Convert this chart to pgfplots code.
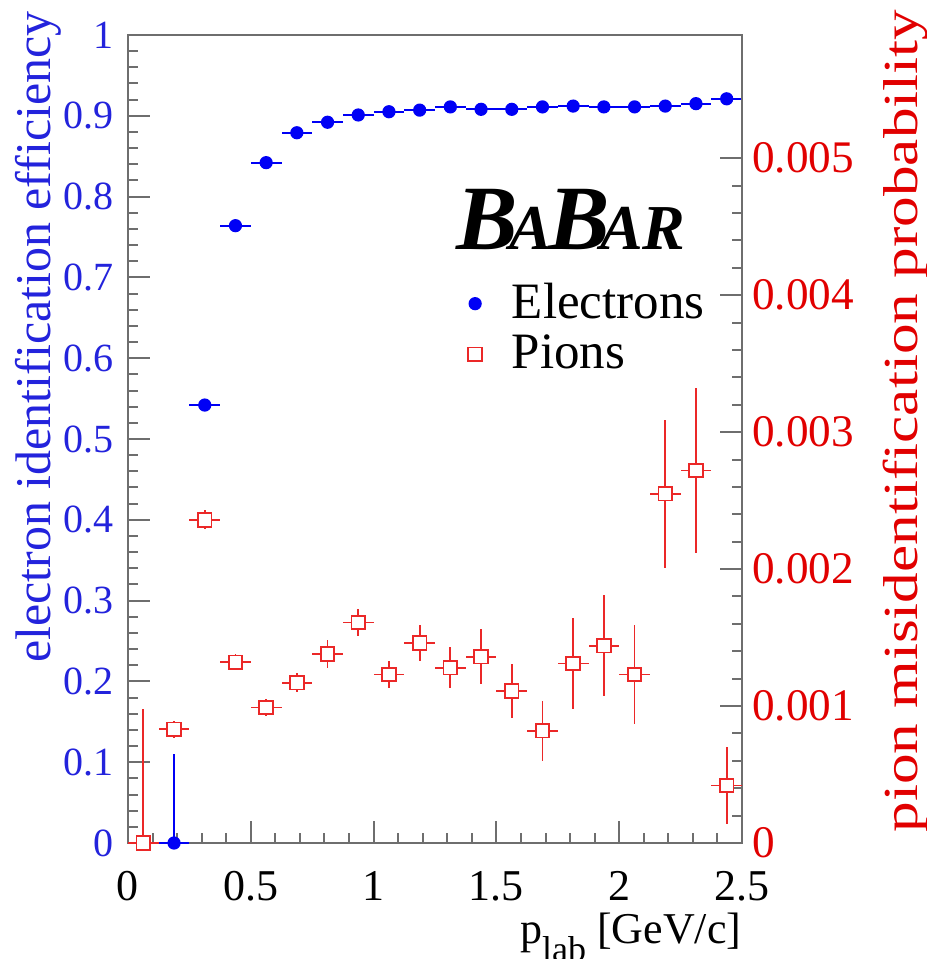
\documentclass[border=0pt]{standalone}
\usepackage{fontspec}
\setmainfont{Liberation Serif}
\usepackage{pgfplots}
\pgfplotsset{compat=1.18}

\definecolor{elblue}{RGB}{0,0,245}
\definecolor{eltext}{RGB}{35,35,220}
\definecolor{pired}{RGB}{235,40,40}
\definecolor{pitext}{RGB}{225,0,0}
\definecolor{frame}{RGB}{110,110,110}

% electrons: bin centre, efficiency, half bin width, error up, error down
\pgfplotstableread{
x      y      ex      eyp    eym
0.1875 0.000  0.0625  0.110  0.000
0.3125 0.542  0.0625  0.005  0.005
0.4375 0.764  0.0625  0.004  0.004
0.5625 0.842  0.0625  0.003  0.003
0.6875 0.879  0.0625  0.002  0.002
0.8125 0.892  0.0625  0.002  0.002
0.9375 0.901  0.0625  0.002  0.002
1.0625 0.905  0.0625  0.002  0.002
1.1875 0.907  0.0625  0.002  0.002
1.3125 0.911  0.0625  0.002  0.002
1.4375 0.908  0.0625  0.002  0.002
1.5625 0.908  0.0625  0.002  0.002
1.6875 0.911  0.0625  0.002  0.002
1.8125 0.912  0.0625  0.002  0.002
1.9375 0.911  0.0625  0.002  0.002
2.0625 0.911  0.0625  0.002  0.002
2.1875 0.912  0.0625  0.002  0.002
2.3125 0.915  0.0625  0.002  0.002
2.4375 0.921  0.0625  0.002  0.002
}\electrons

% pions: bin centre, misid probability, half bin width, error up, error down
\pgfplotstableread{
x      y        ex      eyp      eym
0.0625 0.00000  0.0625  0.00098  0.00000
0.1875 0.00083  0.0625  0.00006  0.00006
0.3125 0.00236  0.0625  0.00007  0.00007
0.4375 0.00132  0.0625  0.00006  0.00006
0.5625 0.00099  0.0625  0.00006  0.00006
0.6875 0.00117  0.0625  0.00007  0.00007
0.8125 0.00138  0.0625  0.00010  0.00010
0.9375 0.00161  0.0625  0.00010  0.00010
1.0625 0.00123  0.0625  0.00010  0.00010
1.1875 0.00146  0.0625  0.00013  0.00013
1.3125 0.00128  0.0625  0.00015  0.00015
1.4375 0.00136  0.0625  0.00020  0.00020
1.5625 0.00111  0.0625  0.00020  0.00020
1.6875 0.00082  0.0625  0.00022  0.00022
1.8125 0.00131  0.0625  0.00033  0.00033
1.9375 0.00144  0.0625  0.00037  0.00037
2.0625 0.00123  0.0625  0.00036  0.00036
2.1875 0.00255  0.0625  0.00054  0.00054
2.3125 0.00272  0.0625  0.00060  0.00060
2.4375 0.00042  0.0625  0.00028  0.00028
}\pions

\pgfplotsset{
  babar/.style={
    scale only axis, width=153.5pt, height=202pt,
    at={(0,0)}, anchor=south west,
    xmin=0, xmax=2.5, clip=false,
    /pgf/number format/assume math mode=true,
    scaled y ticks=false,
    tick align=inside,
    major tick length=5.5pt, minor tick length=2.6pt,
    tick style={frame, line width=0.5pt},
    axis line style={frame, line width=0.6pt},
    error bars/error mark=none,
    error bars/error bar style={line width=0.45pt},
  },
}

\begin{document}
\begin{tikzpicture}
\begin{axis}[babar,
    ymin=0, ymax=1,
    xtick={0,0.5,1,1.5,2,2.5},
    minor x tick num=4,
    ytick={0,0.1,0.2,0.3,0.4,0.5,0.6,0.7,0.8,0.9,1},
    minor y tick num=4,
    xtick pos=bottom, ytick pos=left,
    x tick label style={font=\fontsize{11}{11}\selectfont, black, yshift=-3.5pt},
    y tick label style={font=\fontsize{10}{10}\selectfont, eltext},
    xlabel={p\raisebox{-0.42em}{\fontsize{9}{9}\selectfont lab} [GeV/c]},
    xlabel style={font=\fontsize{11}{11}\selectfont, at={(axis description cs:1,0)},
                  anchor=base east, inner sep=0pt, yshift=-25pt},
    ylabel={electron identification efficiency},
    ylabel style={font=\fontsize{12.5}{12.5}\selectfont, eltext,
                  at={(axis description cs:-0.1466,0.626)}, anchor=center},
]
\addplot[elblue, only marks, mark=*, mark size=1.45pt,
         error bars/.cd, x dir=both, x explicit, y dir=both, y explicit]
  table[x=x, y=y, x error=ex, y error plus=eyp, y error minus=eym] {\electrons};
\end{axis}

\begin{axis}[babar,
    ymin=0, ymax=0.0059,
    axis x line=none, axis y line*=right,
    ytick={0,0.001,0.002,0.003,0.004,0.005},
    yticklabels={0,0.001,0.002,0.003,0.004,0.005},
    minor y tick num=4,
    y tick label style={font=\fontsize{11.3}{11}\selectfont, pitext, xshift=-1pt},
    ylabel={pion misidentification probability},
    ylabel style={font=\fontsize{15.3}{15}\selectfont, pitext,
                  at={(axis description cs:1.267,0.522)}, anchor=center,
                  yscale=0.8},
    legend cell align=left,
    legend style={at={(axis description cs:0.553,0.704)}, anchor=north west,
                  draw=none, fill=none, inner sep=0pt,
                  font=\fontsize{12.75}{12.75}\selectfont,
                  row sep=-1.5pt,
                  /tikz/every odd column/.append style={column sep=5.5pt}},
]
\addlegendimage{elblue, only marks, mark=*, mark size=1.45pt}
\addplot[pired, only marks, mark=square*, mark size=1.7pt,
         mark options={fill=white, line width=0.45pt},
         error bars/.cd, x dir=both, x explicit, y dir=both, y explicit]
  table[x=x, y=y, x error=ex, y error plus=eyp, y error minus=eym] {\pions};
\legend{Electrons, Pions}
\node[anchor=base, font=\fontsize{23}{23}\selectfont\bfseries\itshape]
  at (axis description cs:0.722,0.734)
  {B\kern-0.1em{\fontsize{16}{16}\selectfont A}\kern-0.04em B\kern-0.1em{\fontsize{16}{16}\selectfont AR}};
\end{axis}
\pgfresetboundingbox
\path[use as bounding box] (-32pt,-29pt) rectangle (199.75pt,210.75pt);
\end{tikzpicture}
\end{document}
